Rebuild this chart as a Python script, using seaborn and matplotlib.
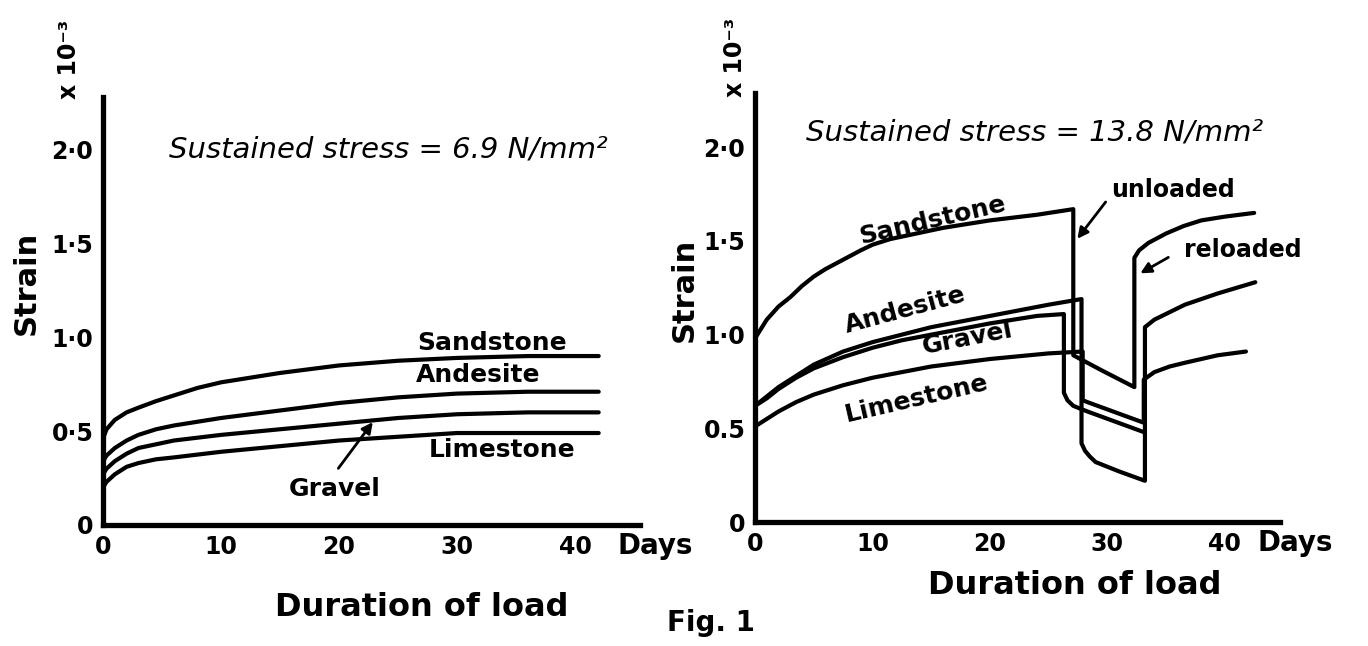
import matplotlib
matplotlib.use("Agg")
import matplotlib.pyplot as plt
import seaborn as sns
import pandas as pd

# ---- left panel: sustained stress 6.9 N/mm2 ----
left_days = [0, 0.3, 1, 2, 3, 4.5, 6, 8, 10, 12.5, 15, 17.5, 20, 25, 30, 36, 42]
left_sandstone = [0.46, 0.51, 0.56, 0.60, 0.625, 0.66, 0.69, 0.73, 0.76, 0.785, 0.81, 0.83, 0.85, 0.875, 0.89, 0.90, 0.90]
left_andesite = [0.34, 0.37, 0.41, 0.45, 0.48, 0.51, 0.53, 0.55, 0.57, 0.59, 0.61, 0.63, 0.65, 0.68, 0.70, 0.71, 0.71]
left_gravel = [0.27, 0.30, 0.34, 0.38, 0.41, 0.43, 0.45, 0.465, 0.48, 0.495, 0.51, 0.525, 0.54, 0.57, 0.59, 0.60, 0.60]
left_limestone = [0.20, 0.23, 0.27, 0.31, 0.33, 0.35, 0.36, 0.375, 0.39, 0.405, 0.42, 0.435, 0.45, 0.47, 0.49, 0.49, 0.49]

# ---- right panel: sustained stress 13.8 N/mm2, unloaded then reloaded ----
right_sandstone_days = [0, 0.5, 1, 2, 3, 4, 5, 6, 7.5, 9, 10, 11.5, 13, 16, 20, 24, 27.1,
                        27.1, 29.5, 32.3,
                        32.3, 32.7, 33.5, 35, 36.5, 38, 40, 42.5]
right_sandstone = [0.98, 1.03, 1.08, 1.15, 1.20, 1.26, 1.31, 1.35, 1.40, 1.45, 1.48, 1.51, 1.53, 1.57, 1.61, 1.64, 1.67,
                   0.89, 0.81, 0.72,
                   1.41, 1.45, 1.49, 1.54, 1.58, 1.61, 1.63, 1.65]
right_andesite_days = [0, 1, 2, 3.5, 5, 7.5, 10, 12.5, 15, 20, 25, 27.8,
                       27.8, 28.1, 28.5, 29, 31, 33.2,
                       33.2, 34, 35.3, 36.6, 38, 39.4, 41, 42.6]
right_andesite = [0.62, 0.67, 0.72, 0.78, 0.84, 0.91, 0.96, 1.00, 1.04, 1.10, 1.16, 1.19,
                  0.42, 0.38, 0.35, 0.32, 0.27, 0.22,
                  1.04, 1.08, 1.12, 1.16, 1.19, 1.22, 1.25, 1.28]
right_gravel_days = [0, 1, 2, 3.5, 5, 7.5, 10, 12.5, 15, 20, 24, 26.3,
                     26.3, 26.6, 27.1, 28.3, 33.1]
right_gravel = [0.62, 0.66, 0.71, 0.77, 0.82, 0.88, 0.93, 0.97, 1.00, 1.06, 1.10, 1.11,
                0.69, 0.65, 0.62, 0.59, 0.48]
right_limestone_days = [0, 1, 2, 3.5, 5, 7.5, 10, 12.5, 15, 20, 25, 27.9,
                        27.9, 28.3, 33.1,
                        33.1, 34, 35.3, 36.6, 38, 39.4, 41.8]
right_limestone = [0.51, 0.55, 0.59, 0.64, 0.68, 0.73, 0.77, 0.80, 0.83, 0.87, 0.90, 0.91,
                   0.65, 0.64, 0.53,
                   0.76, 0.80, 0.83, 0.85, 0.87, 0.89, 0.91]

x_ticks = [0, 10, 20, 30, 40]
y_ticks = [0, 0.5, 1.0, 1.5, 2.0]
left_ylabels = ["0", "0·5", "1·0", "1·5", "2·0"]
right_ylabels = ["0", "0.5", "1·0", "1·5", "2·0"]


def to_frame(series):
    rows = []
    for name, days, vals in series:
        for d, v in zip(days, vals):
            rows.append({"day": d, "strain": v, "material": name})
    return pd.DataFrame(rows)


left_df = to_frame([
    ("Sandstone", left_days, left_sandstone),
    ("Andesite", left_days, left_andesite),
    ("Gravel", left_days, left_gravel),
    ("Limestone", left_days, left_limestone),
])
right_df = to_frame([
    ("Sandstone", right_sandstone_days, right_sandstone),
    ("Andesite", right_andesite_days, right_andesite),
    ("Gravel", right_gravel_days, right_gravel),
    ("Limestone", right_limestone_days, right_limestone),
])

sns.set_style("white")
plt.rcParams['font.family'] = ['DejaVu Sans']
plt.rcParams['text.color'] = 'black'
plt.rcParams['xtick.color'] = 'black'
plt.rcParams['ytick.color'] = 'black'

W, H = 1368, 646
fig = plt.figure(figsize=(W / 100, H / 100), dpi=100)
ax1 = fig.add_axes([103 / W, 1 - 525 / H, (640 - 103) / W, (525 - 97) / H])
ax2 = fig.add_axes([755 / W, 1 - 522 / H, (1280 - 755) / W, (522 - 93) / H])

black = {"Sandstone": "black", "Andesite": "black", "Gravel": "black", "Limestone": "black"}

for ax, df, xmax, ymax, ylabels, xoff in [(ax1, left_df, 45.5, 2.28, left_ylabels, -2.9),
                                          (ax2, right_df, 44.7, 2.29, right_ylabels, -1.7)]:
    sns.lineplot(data=df, x="day", y="strain", hue="material", palette=black,
                 estimator=None, sort=False, legend=False, lw=3.0, ax=ax,
                 clip_on=False)
    ax.set_xlim(0, xmax)
    ax.set_ylim(0, ymax)
    for s in ["top", "right"]:
        ax.spines[s].set_visible(False)
    for s in ["left", "bottom"]:
        ax.spines[s].set_linewidth(3.8)
        ax.spines[s].set_color("black")
    ax.set_xticks(x_ticks)
    ax.set_xticklabels([str(t) for t in x_ticks])
    ax.set_yticks(y_ticks)
    ax.set_yticklabels(ylabels)
    ax.tick_params(direction="in", length=13, width=2.4, color="black",
                   labelcolor="black", labelsize=17, pad=7)
    for lab in ax.get_xticklabels() + ax.get_yticklabels():
        lab.set_fontweight("bold")
    ax.set_xlabel("")
    ax.set_ylabel("")
    ax.patch.set_alpha(0)

    ax.text(ax.get_xlim()[1] + 1.3, -0.11, "Days", fontsize=20, fontweight="bold",
            ha="center", va="center", clip_on=False)
    ax.text(xoff, 2.48, "x 10⁻³", rotation=90, fontsize=17, fontweight="bold",
            ha="center", va="center", clip_on=False)

label_kw = dict(fontsize=18, fontweight="bold", ha="center", va="center")
arrow_kw = dict(arrowstyle="-|>", color="black", lw=2, mutation_scale=16)

# left panel labels
ax1.text(5.6, 2.0, "Sustained stress = 6.9 N/mm²", fontsize=21, style="italic",
         ha="left", va="center")
ax1.text(-6.5, 1.29, "Strain", rotation=90, fontsize=22, fontweight="bold",
         ha="center", va="center")
ax1.text(27.0, -0.44, "Duration of load", fontsize=23, fontweight="bold",
         ha="center", va="center", clip_on=False)
ax1.text(33.0, 0.97, "Sandstone", **label_kw)
ax1.text(31.8, 0.80, "Andesite", **label_kw)
ax1.text(33.8, 0.40, "Limestone", **label_kw)
ax1.text(19.6, 0.19, "Gravel", **label_kw)
ax1.annotate("", xy=(23.0, 0.56), xytext=(19.8, 0.29), arrowprops=arrow_kw)

# right panel labels
ax2.text(4.3, 2.08, "Sustained stress = 13.8 N/mm²", fontsize=21, style="italic",
         ha="left", va="center")
ax2.text(-6.0, 1.24, "Strain", rotation=90, fontsize=22, fontweight="bold",
         ha="center", va="center")
ax2.text(27.2, -0.34, "Duration of load", fontsize=23, fontweight="bold",
         ha="center", va="center", clip_on=False)
ax2.text(15.1, 1.61, "Sandstone", rotation=13, **label_kw)
ax2.text(12.8, 1.13, "Andesite", rotation=15, **label_kw)
ax2.text(18.1, 0.98, "Gravel", rotation=11, **label_kw)
ax2.text(13.8, 0.66, "Limestone", rotation=13, **label_kw)
ax2.text(35.6, 1.77, "unloaded", fontsize=17, fontweight="bold", ha="center", va="center")
ax2.annotate("", xy=(27.3, 1.50), xytext=(30.0, 1.72), arrowprops=arrow_kw)
ax2.text(41.5, 1.45, "reloaded", fontsize=17, fontweight="bold", ha="center", va="center")
ax2.annotate("", xy=(32.6, 1.32), xytext=(35.4, 1.42), arrowprops=arrow_kw)

fig.text(711 / W, 1 - 623 / H, "Fig. 1", fontsize=20, fontweight="bold",
         ha="center", va="center")

fig.savefig("out.png", dpi=100)
